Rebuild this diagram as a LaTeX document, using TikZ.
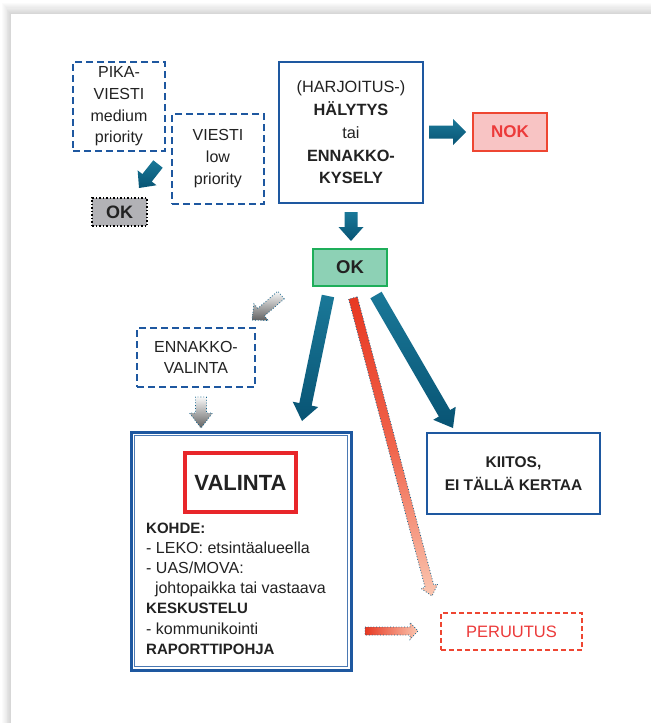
\documentclass[tikz,border=0pt]{standalone}
\usepackage{fontspec}
\setmainfont{Liberation Sans}
\usetikzlibrary{calc}

\definecolor{boxblue}{RGB}{30,88,160}
\definecolor{arrowtop}{RGB}{26,120,152}
\definecolor{arrowbot}{RGB}{8,84,116}
\definecolor{okgreen}{RGB}{141,209,181}
\definecolor{okgreenline}{RGB}{30,174,90}
\definecolor{nokfill}{RGB}{248,196,196}
\definecolor{nokline}{RGB}{238,70,50}
\definecolor{nokred}{RGB}{232,38,42}
\definecolor{redtext}{RGB}{236,58,58}
\definecolor{txt}{RGB}{34,34,34}
\definecolor{okgray}{RGB}{178,178,182}
\definecolor{dotteal}{RGB}{20,100,140}
\definecolor{redstart}{RGB}{232,56,34}
\definecolor{redmid}{RGB}{240,100,76}
\definecolor{redend}{RGB}{250,198,176}

% block arrow: style, from, to, half shaft width, half head width, head length
\newcommand\flowarrow[6]{%
  \coordinate (fa-neck) at ($(#3)!#6!(#2)$);
  \path[#1] ($(#2)!#4!90:(#3)$) -- ($(fa-neck)!#4!90:(#3)$)
    -- ($(fa-neck)!#5!90:(#3)$) -- (#3) -- ($(fa-neck)!#5!-90:(#3)$)
    -- ($(fa-neck)!#4!-90:(#3)$) -- ($(#2)!#4!-90:(#3)$) -- cycle;
}
\newcommand\hd[1]{{\fontsize{15}{20.2}\selectfont\bfseries #1}}

\tikzset{
  solidbox/.style={draw=boxblue, line width=2.2pt, fill=white, inner sep=0pt,
    align=center, text=txt},
  dashbox/.style={draw=boxblue, line width=2.2pt, dash pattern=on 7pt off 4pt,
    fill=white, inner sep=0pt, align=center, text=txt},
  bluearrow/.style={top color=arrowtop, bottom color=arrowbot, draw=none},
  grayarrow/.style={top color=gray!5, bottom color=black!62, draw=dotteal,
    dotted, line width=0.8pt},
  redarrow/.style={top color=redstart, bottom color=redend, middle color=redmid,
    draw=dotteal, dotted, line width=0.8pt},
  redharrow/.style={left color=redstart, right color=redend, draw=dotteal,
    dotted, line width=0.8pt},
}

\begin{document}
\begin{tikzpicture}[x=1pt, y=-1pt]
\useasboundingbox (0,0) rectangle (651,723);

% sheet with soft shadow along the top and left edges
\fill[white] (0,0) rectangle (651,723);
\foreach \i in {1,...,10}
  \fill[black, opacity=0.016] ({11-0.9*\i},{14-1.1*\i}) rectangle (651,723);
\fill[white] (11,14) rectangle (651,723);

% message boxes
\node[dashbox, minimum width=92pt, minimum height=89pt,
  font=\fontsize{16}{21.7}\selectfont] (pika) at (119,106.5)
  {PIKA-\\VIESTI\\medium\\priority};
\node[dashbox, minimum width=92pt, minimum height=90pt,
  font=\fontsize{16}{22}\selectfont] (viesti) at (218,159)
  {VIESTI\\low\\priority};
\node[draw=black, dotted, line width=1.5pt, fill=okgray, inner sep=0pt,
  minimum width=55pt, minimum height=28pt, text=txt,
  font=\fontsize{18}{20}\selectfont\bfseries] (okgrey) at (119.5,212) {OK};

% alarm / inquiry
\node[solidbox, minimum width=144pt, minimum height=141pt,
  font=\fontsize{16.3}{22.8}\selectfont] (alarm) at (351,132.5)
  {(HARJOITUS-)\\\textbf{HÄLYTYS}\\tai\\\textbf{ENNAKKO-}\\\textbf{KYSELY}};
\node[draw=nokline, line width=2pt, fill=nokfill, inner sep=0pt,
  minimum width=74pt, minimum height=38pt, text=redtext,
  font=\fontsize{17}{20}\selectfont\bfseries] (nok) at (510,132) {NOK};
\node[draw=okgreenline, line width=2pt, fill=okgreen, inner sep=0pt,
  minimum width=74pt, minimum height=37pt, text=txt,
  font=\fontsize{18.5}{20}\selectfont\bfseries] (ok) at (350,267.5) {OK};

% pre-selection
\node[dashbox, minimum width=118pt, minimum height=59pt,
  font=\fontsize{16}{21}\selectfont] (ennakko) at (196,357.5)
  {ENNAKKO-\\VALINTA};

% selection panel
\node[draw=boxblue, line width=3pt, fill=white, minimum width=220pt,
  minimum height=238pt, inner sep=0pt] (valinta) at (241,551) {};
\draw[boxblue!80, line width=1.1pt]
  ($(valinta.north west)+(5,5)$) rectangle ($(valinta.south east)+(-5,-5)$);
\node[draw=nokred, line width=3.5pt, fill=white, inner sep=0pt,
  minimum width=111pt, minimum height=59pt, text=txt,
  font=\fontsize{22}{24}\selectfont\bfseries] (valhead) at (240.5,482.5) {VALINTA};
\node[anchor=north west, inner sep=0pt, align=left, text=txt,
  font=\fontsize{16}{20.2}\selectfont] (valtext) at (146,522.5)
  {\hd{KOHDE:}\\- LEKO: etsintäalueella\\- UAS/MOVA:\\
   \hspace*{0.55em}johtopaikka tai vastaava\\\hd{KESKUSTELU}\\
   - kommunikointi\\\hd{RAPORTTIPOHJA}};

% other outcomes
\node[solidbox, minimum width=173pt, minimum height=81pt,
  font=\fontsize{15.5}{23}\selectfont\bfseries] (kiitos) at (513.5,473.5)
  {KIITOS,\\EI TÄLLÄ KERTAA};
\node[draw=nokline, line width=2pt, dash pattern=on 5pt off 3pt, fill=white,
  inner sep=0pt, minimum width=141pt, minimum height=37pt, text=redtext,
  font=\fontsize{16.5}{20}\selectfont] (peruutus) at (511.5,631.5) {PERUUTUS};

% arrow end points
\coordinate (pikaA) at (158,164);   \coordinate (okgreyA) at (139,188);
\coordinate (alarmE) at (429,132);  \coordinate (nokW) at (466,132);
\coordinate (alarmS) at (351,212);  \coordinate (okN) at (351,241);
\coordinate (okW) at (281,295);     \coordinate (ennakkoN) at (252,320);
\coordinate (ennakkoS) at (201,397);\coordinate (valintaN) at (201,428);
\coordinate (okSW) at (328,296);    \coordinate (valintaNE) at (302,421);
\coordinate (okS) at (353,298);     \coordinate (peruutusN) at (432,596);
\coordinate (okSE) at (376,295);    \coordinate (kiitosN) at (453,428);
\coordinate (valintaE) at (365,631);\coordinate (peruutusW) at (418,631);

\flowarrow{bluearrow}{pikaA}{okgreyA}{6pt}{12pt}{13pt}
\flowarrow{bluearrow}{alarmE}{nokW}{6.5pt}{13pt}{13pt}
\flowarrow{bluearrow}{alarmS}{okN}{6.5pt}{12.5pt}{14pt}
\flowarrow{grayarrow}{okW}{ennakkoN}{5pt}{11pt}{12pt}
\flowarrow{grayarrow}{ennakkoS}{valintaN}{5.5pt}{11.5pt}{15pt}
\flowarrow{bluearrow}{okSW}{valintaNE}{6.3pt}{13pt}{17pt}
\flowarrow{bluearrow}{okSE}{kiitosN}{6.5pt}{13pt}{17pt}
\flowarrow{redarrow}{okS}{peruutusN}{4.5pt}{8.5pt}{10pt}
\flowarrow{redharrow}{valintaE}{peruutusW}{4pt}{8.5pt}{8pt}
\end{tikzpicture}
\end{document}
